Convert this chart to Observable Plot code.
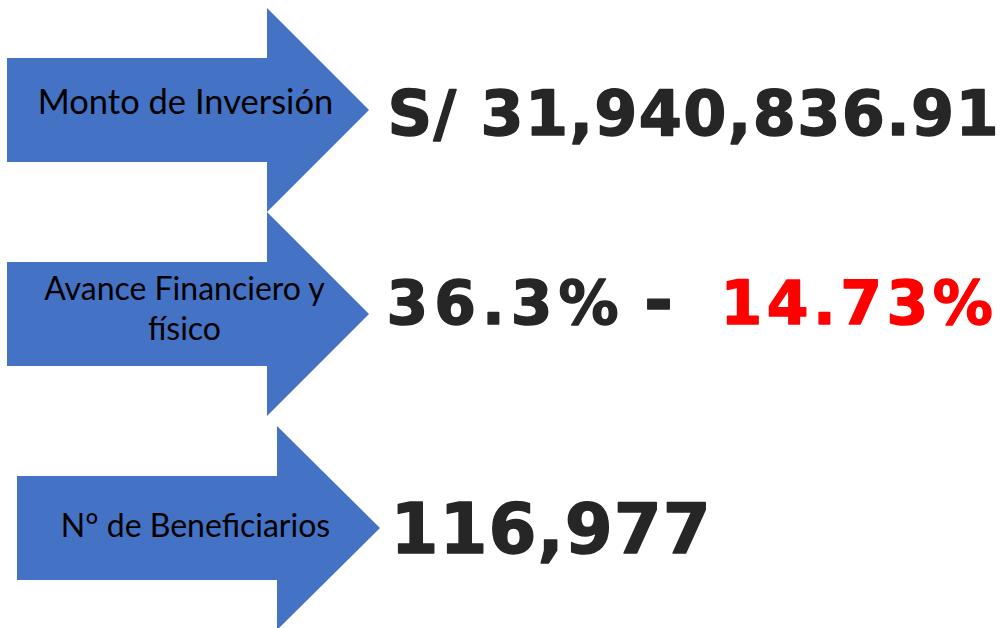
<!DOCTYPE html>
<html>
<head>
<meta charset="utf-8">
<script src="https://cdn.jsdelivr.net/npm/d3@7"></script>
<script src="https://cdn.jsdelivr.net/npm/@observablehq/plot@0.6"></script>
<style>
  html, body { margin: 0; padding: 0; background: #ffffff; }
  #chart svg { display: block; }
</style>
</head>
<body>
<div id="chart"></div>
<script>
// ---- data ----
const indicators = ["Monto de Inversión", "Avance Financiero y\nfísico", "N° de Beneficiarios"];
const montoInversion = ["S/ 31,940,836.91"];
const avanceFinanciero = ["36.3%"];
const avanceFisico = ["14.73%"];
const beneficiarios = ["116,977"];

// ---- layout (not data) ----
const W = 1002, H = 628;
const arrowsLayout = [
  {x0: 7,  xh: 267, tip: 369, cy: 110},
  {x0: 7,  xh: 267, tip: 369, cy: 314},
  {x0: 17, xh: 277, tip: 380, cy: 528}
];
const bodyHalf = 52, headHalf = 102;

const arrowPts = arrowsLayout.flatMap((a, i) => [
  {k: i, x: a.x0,  y1: a.cy - bodyHalf, y2: a.cy + bodyHalf},
  {k: i, x: a.xh,  y1: a.cy - bodyHalf, y2: a.cy + bodyHalf},
  {k: i, x: a.xh,  y1: a.cy - headHalf, y2: a.cy + headHalf},
  {k: i, x: a.tip, y1: a.cy,            y2: a.cy}
]);

const labelRows = indicators.map((t, i) => ({
  text: t,
  x: [185, 184, 195][i],
  y: [113, 339, 536][i]
}));

const labelFont = "Lato, 'Open Sans', sans-serif";
const bigFont = "'DejaVu Sans', Verdana, sans-serif";
const big = (fill, size) => ({fontSize: size, fontWeight: "bold", fontFamily: bigFont, fill, stroke: fill, strokeWidth: 1.4, lineAnchor: "bottom"});

const chart = Plot.plot({
  width: W, height: H,
  margin: 0,
  x: {domain: [0, W], range: [0, W], axis: null},
  y: {domain: [0, H], range: [0, H], axis: null},
  marks: [
    Plot.areaY(arrowPts, {x: "x", y1: "y1", y2: "y2", z: "k", fill: "#4472C4", curve: "linear"}),
    Plot.text(labelRows.slice(0,1), {x: "x", y: "y", text: "text", fontSize: 34.5, fontFamily: labelFont, fill: "#000", lineAnchor: "bottom", textAnchor: "middle"}),
    Plot.text(labelRows.slice(1,2), {x: "x", y: "y", text: "text", fontSize: 32, fontFamily: labelFont, fill: "#000", lineAnchor: "bottom", textAnchor: "middle", lineHeight: 1.22}),
    Plot.text(labelRows.slice(2,3), {x: "x", y: "y", text: "text", fontSize: 32, fontFamily: labelFont, fill: "#000", lineAnchor: "bottom", textAnchor: "middle"}),
    Plot.text(montoInversion, {x: 387, y: 134, text: d => d, textAnchor: "start", ...big("#262626", 62)}),
    Plot.text(avanceFinanciero, {x: 386, y: 323, text: d => d, textAnchor: "start", ...big("#262626", 60)}),
    Plot.text(["-"], {x: 658, y: 323, text: d => d, textAnchor: "middle", ...big("#262626", 70)}),
    Plot.text(avanceFisico, {x: 720, y: 323, text: d => d, textAnchor: "start", ...big("#FF0000", 60)}),
    Plot.text(beneficiarios, {x: 390, y: 552, text: d => d, textAnchor: "start", ...big("#262626", 69)})
  ]
});

// letter spacing tweaks for the big figures (Verdana is wider than DejaVu)
const groups = chart.querySelectorAll('g[aria-label="text"]');
const spacing = [0, 0, 0, 1.35, 6, 0, 4.5, 1];
groups.forEach((g, i) => { if (spacing[i]) g.setAttribute("letter-spacing", spacing[i]); });

document.getElementById("chart").appendChild(chart);
</script>
</body>
</html>
